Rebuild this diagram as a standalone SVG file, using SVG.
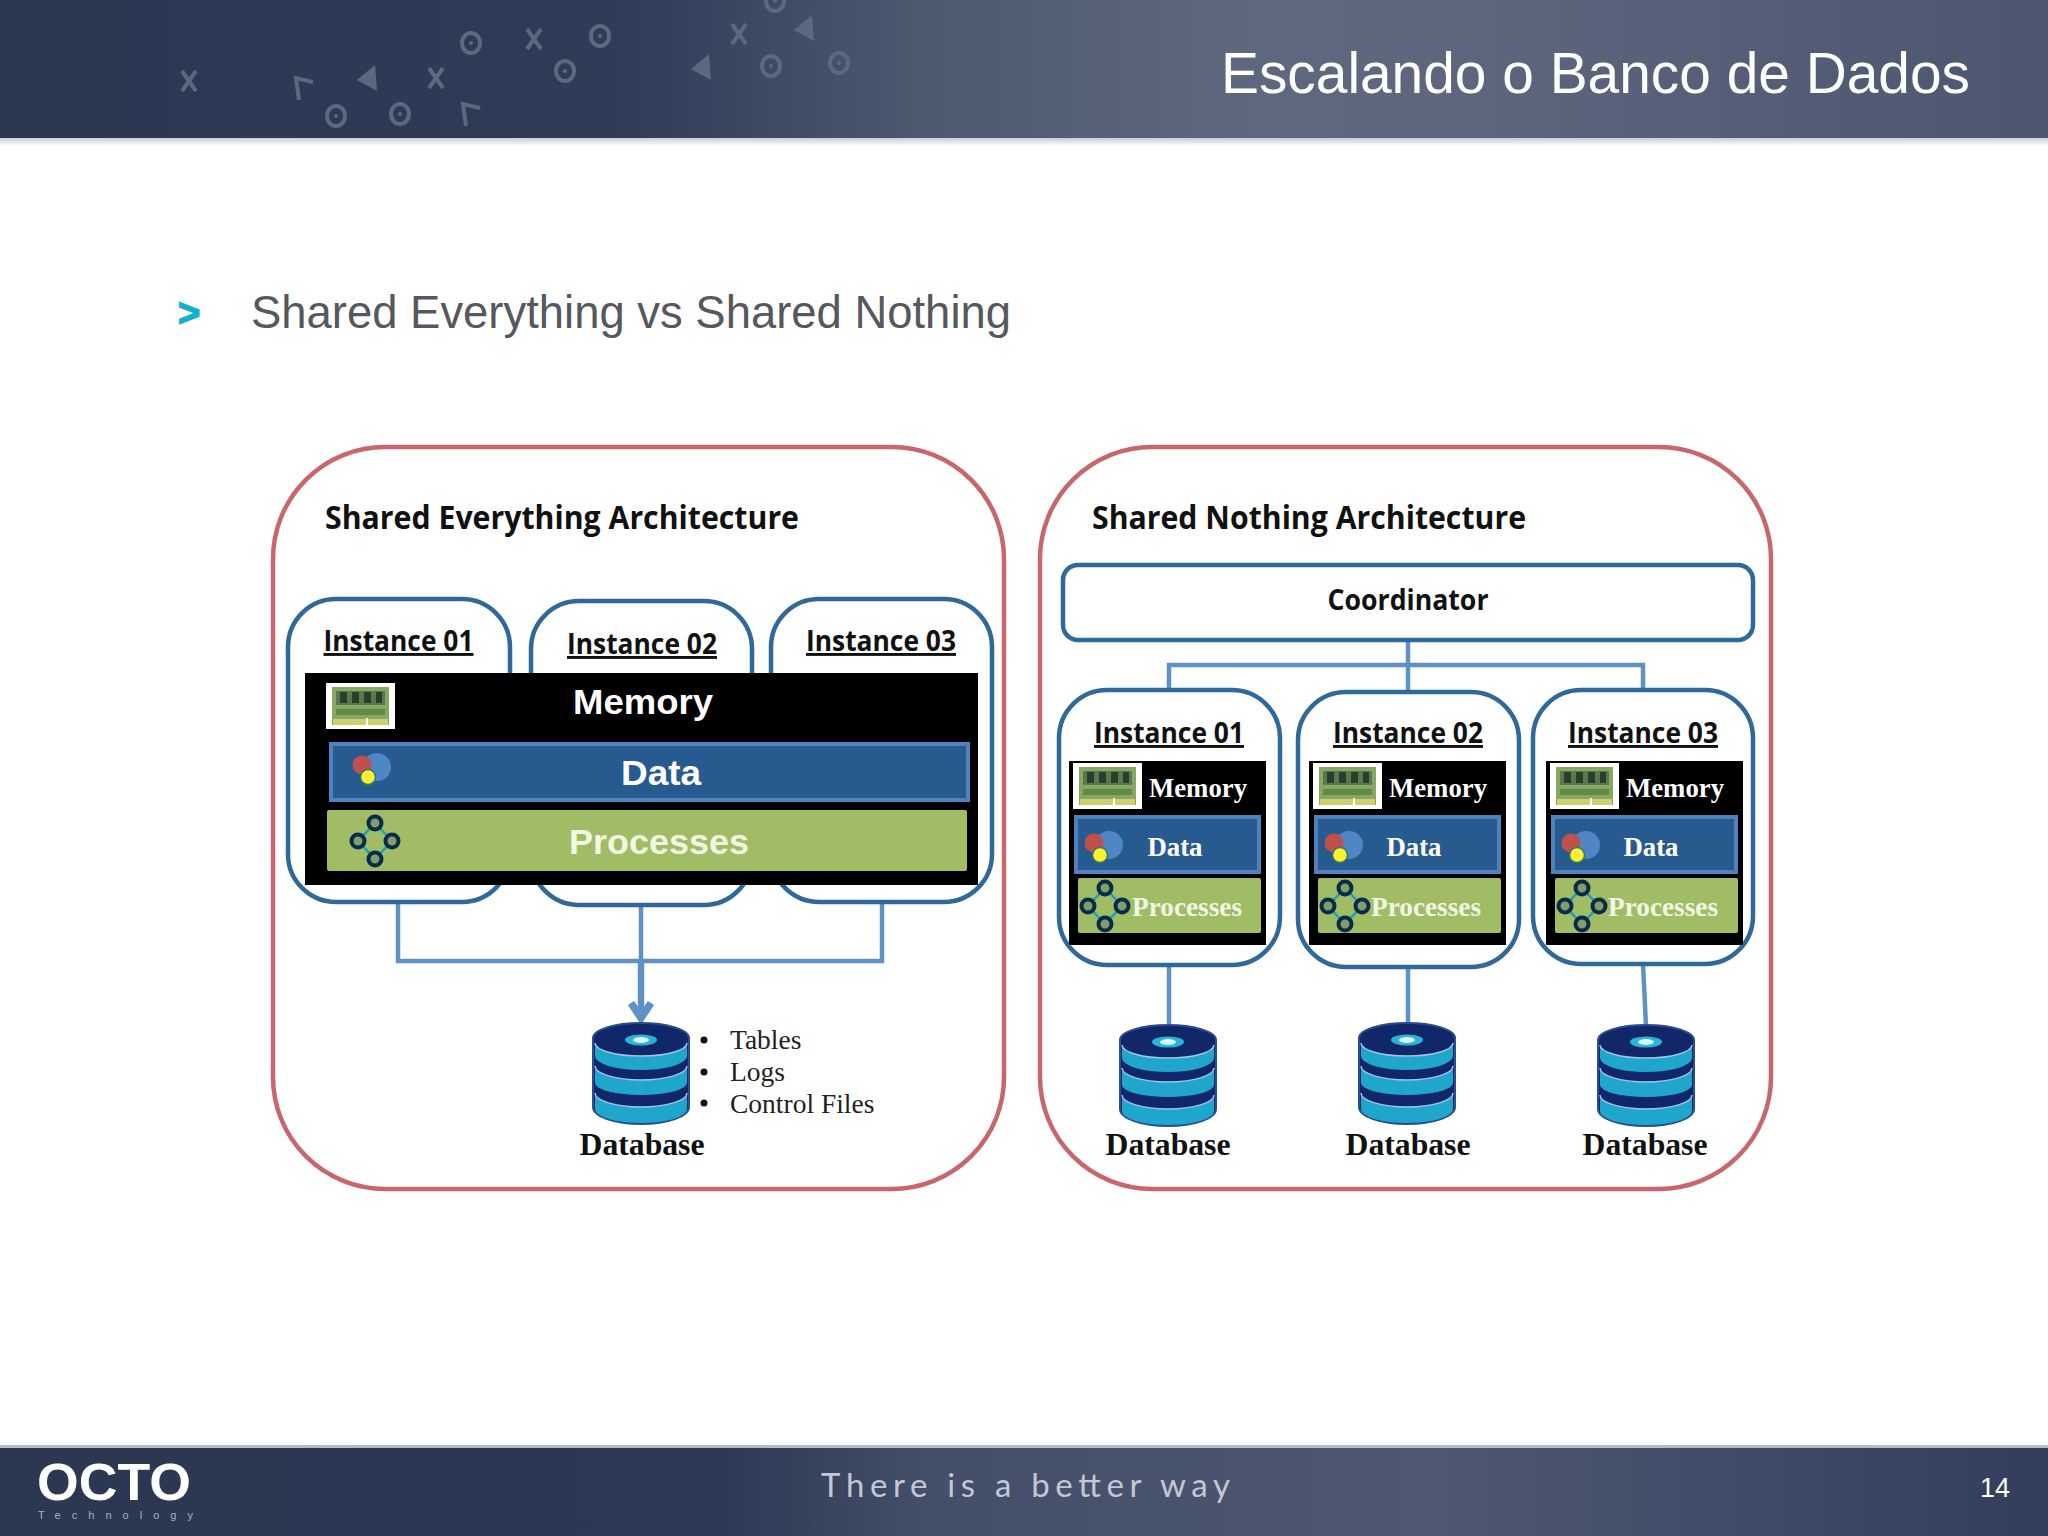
<svg xmlns="http://www.w3.org/2000/svg" xmlns:xlink="http://www.w3.org/1999/xlink" width="2048" height="1536" viewBox="0 0 2048 1536">
<style>
.panel{fill:#fff;stroke:#c9666b;stroke-width:4.500}
.inst{fill:#fff;stroke:#2f689b;stroke-width:4.500}
.blk{fill:#000}
.data{fill:#275b8f;stroke:#4f81bd;stroke-width:4}
.proc{fill:#a0bd66}
.conn{fill:none;stroke:#5f92c4;stroke-width:4.500}
.shaft{stroke-width:6.500}
.head{stroke-width:7.500}
.mark{fill:none;stroke:#5d687f;stroke-width:4}
.markf{fill:#5d687f}
.cal{font-family:"Open Sans",sans-serif;font-weight:700;fill:#111}
.h{font-size:33px}
.i{font-size:29px;text-decoration:underline;text-anchor:middle}
.sans{font-family:"Liberation Sans",Arial,sans-serif}
.wb{font-weight:700;fill:#fff;text-anchor:middle;font-size:35px}
.ser{font-family:"Liberation Serif","Times New Roman",serif}
.mem{font-weight:700;fill:#fff;text-anchor:middle;font-size:28px}
.prs{fill:#f2f7e4}
.dbl{font-weight:700;fill:#111;text-anchor:middle;font-size:31px}
.lst{fill:#222;font-size:27.500px}
</style>
<defs>
<linearGradient id="hg" x1="0" x2="1" y1="0" y2="0">
<stop offset="0" stop-color="#2c3752"/><stop offset="0.3" stop-color="#2f3b57"/><stop offset="0.36" stop-color="#3b4761"/><stop offset="0.45" stop-color="#4d596f"/><stop offset="0.6" stop-color="#5d687e"/><stop offset="0.72" stop-color="#5e667e"/><stop offset="1" stop-color="#4c566f"/>
</linearGradient>
<linearGradient id="fg" x1="0" x2="1" y1="0" y2="0">
<stop offset="0" stop-color="#2c3752"/><stop offset="0.35" stop-color="#2d3854"/><stop offset="0.45" stop-color="#434e68"/><stop offset="0.7" stop-color="#4e5872"/><stop offset="1" stop-color="#323e5c"/>
</linearGradient>
<linearGradient id="sh" x1="0" x2="0" y1="0" y2="1"><stop offset="0" stop-color="#c9ccd6"/><stop offset="1" stop-color="#fff"/></linearGradient>
<symbol id="m-x" overflow="visible"><path class="mark" d="M-7-10 7 10M7-10-7 10"/></symbol>
<symbol id="m-o" overflow="visible"><ellipse class="mark" rx="9" ry="10"/><circle class="markf" r="2"/></symbol>
<symbol id="m-t" overflow="visible"><path class="markf" d="M-10 2 8-13 10 13Z"/></symbol>
<symbol id="m-c" overflow="visible"><path class="mark" d="M-5 13-8-9 9-5"/></symbol>
<symbol id="ram" overflow="visible">
<rect width="69" height="46" fill="#fff"/><rect x="6" y="4" width="57" height="38" fill="#88a763"/>
<rect x="10" y="8" width="49" height="14" fill="#59784e"/>
<g fill="#2a3f2b"><rect x="14" y="9" width="7" height="11"/><rect x="26" y="9" width="7" height="11"/><rect x="38" y="9" width="7" height="11"/><rect x="50" y="9" width="6" height="11"/></g>
<rect x="10" y="26" width="49" height="6" fill="#5f8a48"/><rect x="7" y="36" width="55" height="6" fill="#cfd072"/><rect x="40" y="35" width="2" height="8" fill="#fff"/>
</symbol>
<symbol id="dat" overflow="visible"><circle cx="9" cy="-1" r="14" fill="#4f86c6"/><circle cx="-6" cy="-3" r="9.500" fill="#c0504d"/><circle cx="0" cy="9" r="7.500" fill="#ffee33" stroke="#2f7f5f" stroke-width="1.500"/></symbol>
<symbol id="prc" overflow="visible">
<path d="M0-18 17 0 0 18-17 0Z" fill="none" stroke="#1e9fb5" stroke-width="2.500"/>
<g fill="#7f9f6a" stroke="#0b2a4a" stroke-width="4"><circle cy="-18" r="6.500"/><circle cx="-17" r="6.500"/><circle cx="17" r="6.500"/><circle cy="18" r="6.500"/></g>
</symbol>
<symbol id="db" overflow="visible">
<path d="M-48 15A48 15 0 0 1 48 15V84A48 17 0 0 1-48 84Z" fill="#12266a" stroke="#2a4d8f" stroke-width="2"/>
<path d="M-46 20A46 13 0 0 0 46 20V33A46 14 0 0 1-46 33Z" fill="#1ea6cd"/>
<path d="M-46 43A46 14 0 0 0 46 43V60A46 12 0 0 1-46 60Z" fill="#1ea6cd"/>
<path d="M-46 70A46 14 0 0 0 46 70V86A46 14 0 0 1-46 86Z" fill="#1ea6cd"/>
<g fill="none" stroke="#9fc6e8" stroke-width="1.500"><path d="M-46 20A46 13 0 0 0 46 20"/><path d="M-46 43A46 14 0 0 0 46 43"/><path d="M-46 70A46 14 0 0 0 46 70"/></g>
<ellipse cy="17" rx="16" ry="5.500" fill="#27b5d8"/><ellipse cy="17" rx="8" ry="3" fill="#d8f6fb"/>
</symbol>
<g id="small-stack">
<rect class="blk" width="197" height="184"/>
<use xlink:href="#ram" x="4" y="2" width="69" height="46"/>
<rect class="data" x="7" y="56" width="183" height="55"/>
<use xlink:href="#dat" x="31" y="85" width="1" height="1"/>
<rect class="proc" x="9" y="117" width="183" height="55" rx="2"/>
<use xlink:href="#prc" x="36" y="145" width="1" height="1"/>
</g>
</defs>

<rect width="2048" height="1536" fill="#fff"/>
<g id="header">
<rect y="138" width="2048" height="8" fill="url(#sh)"/>
<rect width="2048" height="138" fill="url(#hg)"/>
<g>
<use xlink:href="#m-x" x="189" y="81" width="1" height="1"/><use xlink:href="#m-c" x="304" y="87" width="1" height="1"/><use xlink:href="#m-t" x="367" y="78" width="1" height="1"/><use xlink:href="#m-x" x="436" y="78" width="1" height="1"/><use xlink:href="#m-o" x="336" y="116" width="1" height="1"/><use xlink:href="#m-o" x="400" y="114" width="1" height="1"/><use xlink:href="#m-c" x="471" y="113" width="1" height="1"/><use xlink:href="#m-o" x="471" y="43" width="1" height="1"/><use xlink:href="#m-x" x="534" y="39" width="1" height="1"/><use xlink:href="#m-o" x="600" y="36" width="1" height="1"/><use xlink:href="#m-o" x="565" y="71" width="1" height="1"/><use xlink:href="#m-x" x="739" y="34" width="1" height="1"/><use xlink:href="#m-t" x="804" y="28" width="1" height="1"/><use xlink:href="#m-t" x="701" y="67" width="1" height="1"/><use xlink:href="#m-o" x="771" y="66" width="1" height="1"/><use xlink:href="#m-o" x="839" y="63" width="1" height="1"/><use xlink:href="#m-o" x="775" y="1" width="1" height="1"/>
</g>
<text class="sans" x="1221" y="93" font-size="58" fill="#fff" textLength="749" lengthAdjust="spacingAndGlyphs">Escalando o Banco de Dados</text>
</g>

<g id="bullet">
<text class="sans" x="178" y="326" font-size="38" font-weight="700" fill="#12b2cc" stroke="#12b2cc" stroke-width="1.500">&gt;</text>
<text class="sans" x="251" y="328" font-size="46" fill="#55585c" textLength="760" lengthAdjust="spacingAndGlyphs">Shared Everything vs Shared Nothing</text>
</g>

<g id="panel-everything">
<rect class="panel" x="273" y="447" width="731" height="742" rx="112"/>
<text class="cal h" x="325" y="529" textLength="474" lengthAdjust="spacingAndGlyphs">Shared Everything Architecture</text>
</g>
<g id="panel-nothing">
<rect class="panel" x="1040" y="447" width="731" height="742" rx="112"/>
<text class="cal h" x="1092" y="529" textLength="434" lengthAdjust="spacingAndGlyphs">Shared Nothing Architecture</text>
</g>

<g id="connectors">
<path class="conn" d="M398 902V961H882V902M641 905V961"/>
<path class="conn shaft" d="M641 961V1018"/>
<path class="conn head" d="M631 1003 641 1018 651 1003"/>
<path class="conn" d="M1408 640V692M1169 690V665H1643V690"/>
<path class="conn" d="M1169 965V1026M1408 967V1026M1643 964 1646 1026"/>
</g>

<g id="se-instance-01"><rect class="inst" x="288" y="599" width="222" height="303" rx="48"/><text class="cal i" x="398.500" y="651" textLength="150" lengthAdjust="spacingAndGlyphs">Instance 01</text></g>
<g id="se-instance-02"><rect class="inst" x="531" y="601" width="221" height="304" rx="48"/><text class="cal i" x="642" y="654" textLength="150" lengthAdjust="spacingAndGlyphs">Instance 02</text></g>
<g id="se-instance-03"><rect class="inst" x="771" y="599" width="221" height="303" rx="48"/><text class="cal i" x="881" y="651" textLength="150" lengthAdjust="spacingAndGlyphs">Instance 03</text></g>
<g id="se-memory">
<rect class="blk" x="305" y="673" width="673" height="212"/>
<use xlink:href="#ram" x="326" y="683" width="69" height="46"/>
<text class="sans wb" x="643" y="714" textLength="140" lengthAdjust="spacingAndGlyphs">Memory</text>
</g>
<g id="se-data">
<rect class="data" x="331" y="744" width="637" height="56"/>
<use xlink:href="#dat" x="368" y="768" width="1" height="1"/>
<text class="sans wb" x="661" y="785" textLength="80" lengthAdjust="spacingAndGlyphs">Data</text>
</g>
<g id="se-processes">
<rect class="proc" x="327" y="810" width="640" height="61" rx="2"/>
<use xlink:href="#prc" x="375" y="841" width="1" height="1"/>
<text class="sans wb prs" x="659" y="854" textLength="180" lengthAdjust="spacingAndGlyphs">Processes</text>
</g>
<g id="se-database">
<use xlink:href="#db" x="641" y="1023" width="1" height="1"/>
<circle cx="704" cy="1040" r="3.500" fill="#111"/><circle cx="704" cy="1072" r="3.500" fill="#111"/><circle cx="704" cy="1103" r="3.500" fill="#111"/>
<text class="ser lst" x="730" y="1049">Tables</text><text class="ser lst" x="730" y="1081">Logs</text><text class="ser lst" x="730" y="1113">Control Files</text>
<text class="ser dbl" x="642" y="1155" textLength="125" lengthAdjust="spacingAndGlyphs">Database</text>
</g>

<g id="coordinator"><rect class="inst" x="1063" y="565" width="690" height="75" rx="15"/><text class="cal" x="1408" y="610" font-size="29" text-anchor="middle" textLength="161" lengthAdjust="spacingAndGlyphs">Coordinator</text></g>

<g id="sn-instance-01">
<rect class="inst" x="1059" y="690" width="221" height="275" rx="48"/>
<text class="cal i" x="1169" y="743" textLength="150" lengthAdjust="spacingAndGlyphs">Instance 01</text>
<use xlink:href="#small-stack" x="1069" y="761"/>
<text class="ser mem" x="1198" y="797" textLength="98" lengthAdjust="spacingAndGlyphs">Memory</text>
<text class="ser mem" x="1175" y="856" textLength="55" lengthAdjust="spacingAndGlyphs">Data</text>
<text class="ser mem prs" x="1187" y="916" textLength="110" lengthAdjust="spacingAndGlyphs">Processes</text>
</g>
<g id="sn-instance-02">
<rect class="inst" x="1298" y="692" width="221" height="275" rx="48"/>
<text class="cal i" x="1408" y="743" textLength="150" lengthAdjust="spacingAndGlyphs">Instance 02</text>
<use xlink:href="#small-stack" x="1309" y="761"/>
<text class="ser mem" x="1438" y="797" textLength="98" lengthAdjust="spacingAndGlyphs">Memory</text>
<text class="ser mem" x="1414" y="856" textLength="55" lengthAdjust="spacingAndGlyphs">Data</text>
<text class="ser mem prs" x="1426" y="916" textLength="110" lengthAdjust="spacingAndGlyphs">Processes</text>
</g>
<g id="sn-instance-03">
<rect class="inst" x="1533" y="690" width="220" height="274" rx="48"/>
<text class="cal i" x="1643" y="743" textLength="150" lengthAdjust="spacingAndGlyphs">Instance 03</text>
<use xlink:href="#small-stack" x="1546" y="761"/>
<text class="ser mem" x="1675" y="797" textLength="98" lengthAdjust="spacingAndGlyphs">Memory</text>
<text class="ser mem" x="1651" y="856" textLength="55" lengthAdjust="spacingAndGlyphs">Data</text>
<text class="ser mem prs" x="1663" y="916" textLength="110" lengthAdjust="spacingAndGlyphs">Processes</text>
</g>
<g id="sn-database-01"><use xlink:href="#db" x="1168" y="1025" width="1" height="1"/><text class="ser dbl" x="1168" y="1155" textLength="125" lengthAdjust="spacingAndGlyphs">Database</text></g>
<g id="sn-database-02"><use xlink:href="#db" x="1407" y="1023" width="1" height="1"/><text class="ser dbl" x="1408" y="1155" textLength="125" lengthAdjust="spacingAndGlyphs">Database</text></g>
<g id="sn-database-03"><use xlink:href="#db" x="1646" y="1025" width="1" height="1"/><text class="ser dbl" x="1645" y="1155" textLength="125" lengthAdjust="spacingAndGlyphs">Database</text></g>

<g id="footer">
<rect y="1445" width="2048" height="4" fill="#b9bcc6"/>
<rect y="1448" width="2048" height="88" fill="url(#fg)"/>
<text class="sans" x="37" y="1500" font-size="52" font-weight="700" fill="#fff" textLength="154" lengthAdjust="spacingAndGlyphs">OCTO</text>
<text class="sans" x="38" y="1519" font-size="11" fill="#aab0bd" textLength="155">Technology</text>
<text x="821" y="1497" font-family="Lato,sans-serif" font-size="33" fill="#c3c8d2" textLength="409">There is a better way</text>
<text class="sans" x="1995" y="1497" font-size="27" text-anchor="middle" fill="#fff">14</text>
</g>
</svg>
